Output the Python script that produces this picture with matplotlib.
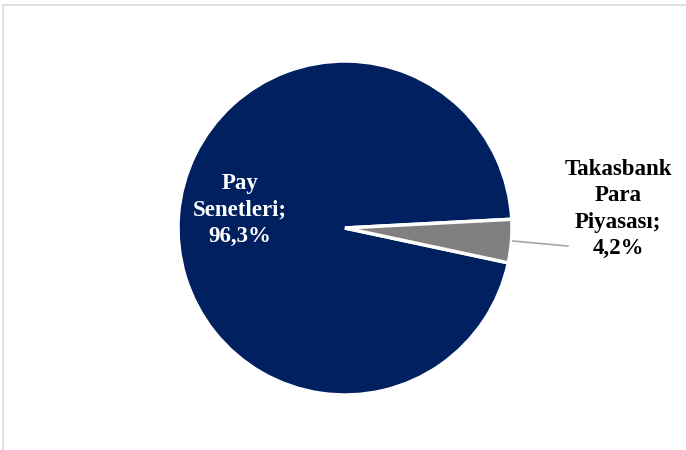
import matplotlib
matplotlib.use("Agg")
import matplotlib.pyplot as plt
from matplotlib.lines import Line2D

categories = ["Pay Senetleri", "Takasbank Para Piyasası"]
values = [96.3, 4.2]
label_texts = ["Pay\nSenetleri;\n96,3%", "Takasbank\nPara\nPiyasası;\n4,2%"]
colors = ["#002060", "#808080"]

W, H = 686, 450
fig = plt.figure(figsize=(W / 100, H / 100), dpi=100)
fig.patch.set_facecolor("white")

# pie occupies pixel box x 178..512, y 61..395 (top origin)
cx, cy, r = 345, 228, 167
ax = fig.add_axes([(cx - r) / W, (H - cy - r) / H, 2 * r / W, 2 * r / H])
ax.pie(values, colors=colors, startangle=3, counterclock=True, radius=1,
       wedgeprops=dict(edgecolor="white", linewidth=2.5))
ax.set_xlim(-1, 1)
ax.set_ylim(-1, 1)
ax.set_aspect("equal")
ax.axis("off")

font = dict(family="Liberation Serif", weight="bold", fontsize=16.5,
            ha="center", va="center", linespacing=1.33)
ax.text(-0.629, 0.108, label_texts[0], color="white", **font)
ax.text(1.635, 0.114, label_texts[1], color="black", clip_on=False, **font)
ax.add_line(Line2D([1.006, 1.335], [-0.078, -0.108], color="#A6A6A6",
                   linewidth=1.2, clip_on=False))

# chart border (top and left visible)
fig.add_artist(Line2D([3.5 / W, 1.0], [1 - 4.5 / H, 1 - 4.5 / H],
                      transform=fig.transFigure, color="#D9D9D9", linewidth=1.2))
fig.add_artist(Line2D([3.5 / W, 3.5 / W], [0, 1 - 4.5 / H],
                      transform=fig.transFigure, color="#D9D9D9", linewidth=1.2))

fig.savefig("out.png", dpi=100, facecolor="white")
